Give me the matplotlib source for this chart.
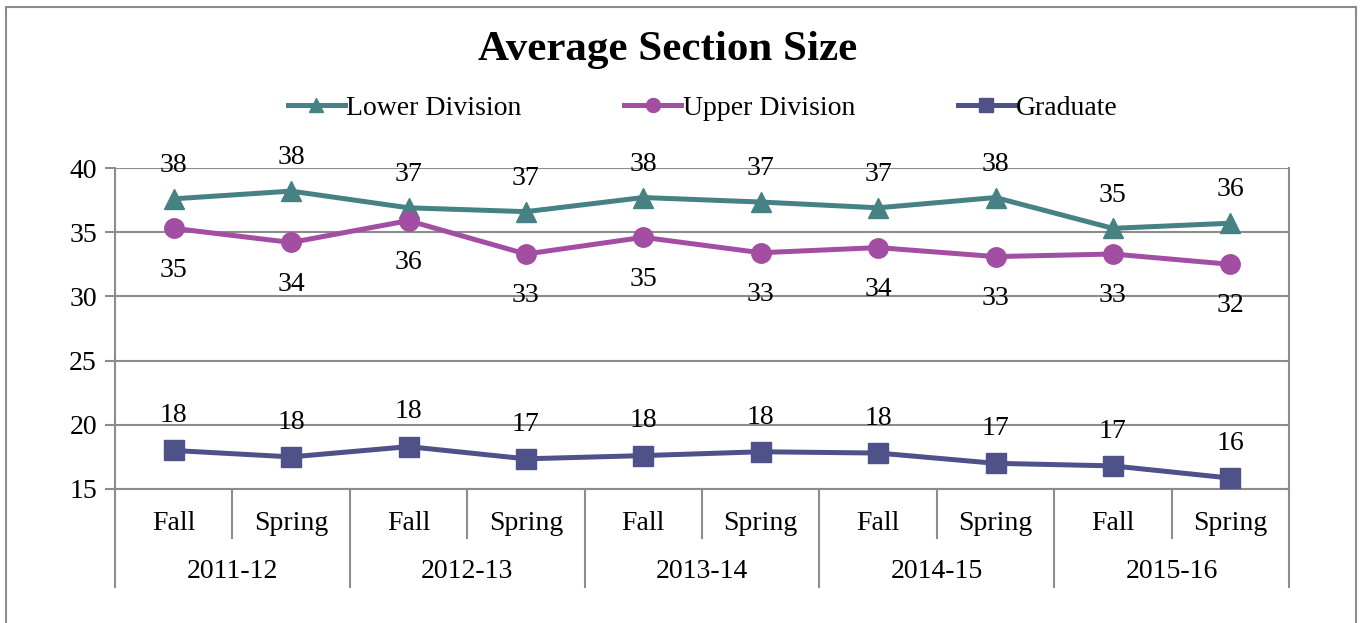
import matplotlib
matplotlib.use("Agg")
import matplotlib.pyplot as plt
from matplotlib.patches import Rectangle
import matplotlib.transforms as mtransforms

plt.rcParams['font.family'] = ['Liberation Serif', 'DejaVu Serif']

semesters = ["Fall", "Spring"] * 5
years = ["2011-12", "2012-13", "2013-14", "2014-15", "2015-16"]
lower = [37.6, 38.2, 36.9, 36.6, 37.7, 37.35, 36.9, 37.7, 35.3, 35.7]
upper = [35.3, 34.2, 35.9, 33.3, 34.6, 33.4, 33.8, 33.1, 33.3, 32.5]
grad = [18.0, 17.5, 18.3, 17.35, 17.6, 17.9, 17.8, 17.0, 16.8, 15.85]
yticks = [15, 20, 25, 30, 35, 40]

c_low = "#468283"
c_up = "#a24ea2"
c_grad = "#4f5189"
gray = "#8c8c8c"
FS = 20

W, H = 1364, 623
fig = plt.figure(figsize=(W / 100, H / 100), dpi=100)
ax = fig.add_axes([115 / W, 1 - 489 / H, (1289 - 115) / W, (489 - 168) / H])

# outer frame
fig.patches.append(Rectangle((6 / W, -0.05), (1356 - 6) / W, 1 - 7 / H + 0.05,
                             transform=fig.transFigure, fill=False,
                             edgecolor=gray, lw=1.5))

x = list(range(len(semesters)))
l1, = ax.plot(x, lower, color=c_low, lw=3.6, marker="^", ms=14, label="Lower Division")
l2, = ax.plot(x, upper, color=c_up, lw=3.6, marker="o", ms=14, label="Upper Division")
l3, = ax.plot(x, grad, color=c_grad, lw=3.6, marker="s", ms=14, label="Graduate")

for xi, v in zip(x, lower):
    ax.annotate(f"{round(v):d}", (xi, v), xytext=(0, 24), textcoords="offset points",
                ha="center", va="center", fontsize=FS)
for xi, v in zip(x, upper):
    ax.annotate(f"{round(v):d}", (xi, v), xytext=(0, -30), textcoords="offset points",
                ha="center", va="center", fontsize=FS)
for xi, v in zip(x, grad):
    ax.annotate(f"{round(v):d}", (xi, v), xytext=(0, 25), textcoords="offset points",
                ha="center", va="center", fontsize=FS)

ax.set_xlim(-0.5, len(x) - 0.5)
ax.set_ylim(15, 40)
ax.set_yticks(yticks)
ax.tick_params(axis="y", labelsize=FS, length=7, width=1.5, color=gray, pad=6)
ax.set_xticks([])
ax.grid(axis="y", color=gray, lw=1.5)
ax.set_axisbelow(True)
for s in ["top", "bottom"]:
    ax.spines[s].set_visible(False)
for s in ["left", "right"]:
    ax.spines[s].set_color(gray)
    ax.spines[s].set_linewidth(1.5)
ax.axhline(15, color=gray, lw=1.5, clip_on=False, zorder=0)

# multi-level category axis
trans = mtransforms.blended_transform_factory(ax.transData, ax.transAxes)
ph = 489 - 168
def ay(py):
    return 1 - (py - 168) / ph

for xi, s in zip(x, semesters):
    ax.text(xi, ay(523), s, transform=trans, ha="center", va="center", fontsize=FS)
for i, yr in enumerate(years):
    ax.text(2 * i + 0.5, ay(572), yr, transform=trans, ha="center", va="center", fontsize=FS)

for k in range(len(x) + 1):
    xb = k - 0.5
    if k % 2 == 0:
        ax.plot([xb, xb], [ay(489), ay(587)], transform=trans, color=gray, lw=1.5, clip_on=False)
    else:
        ax.plot([xb, xb], [ay(489), ay(538)], transform=trans, color=gray, lw=1.5, clip_on=False)

fig.text(668 / W, 1 - 50 / H, "Average Section Size", ha="center", va="center",
         fontsize=31, fontweight="bold")

fig.legend(handles=[l1, l2, l3], loc="center", bbox_to_anchor=(703 / W, 1 - 108 / H),
           ncol=3, frameon=False, fontsize=FS, handlelength=2.05, columnspacing=3.7,
           handletextpad=0.05, markerscale=0.72)

fig.savefig("out.png", dpi=100)
